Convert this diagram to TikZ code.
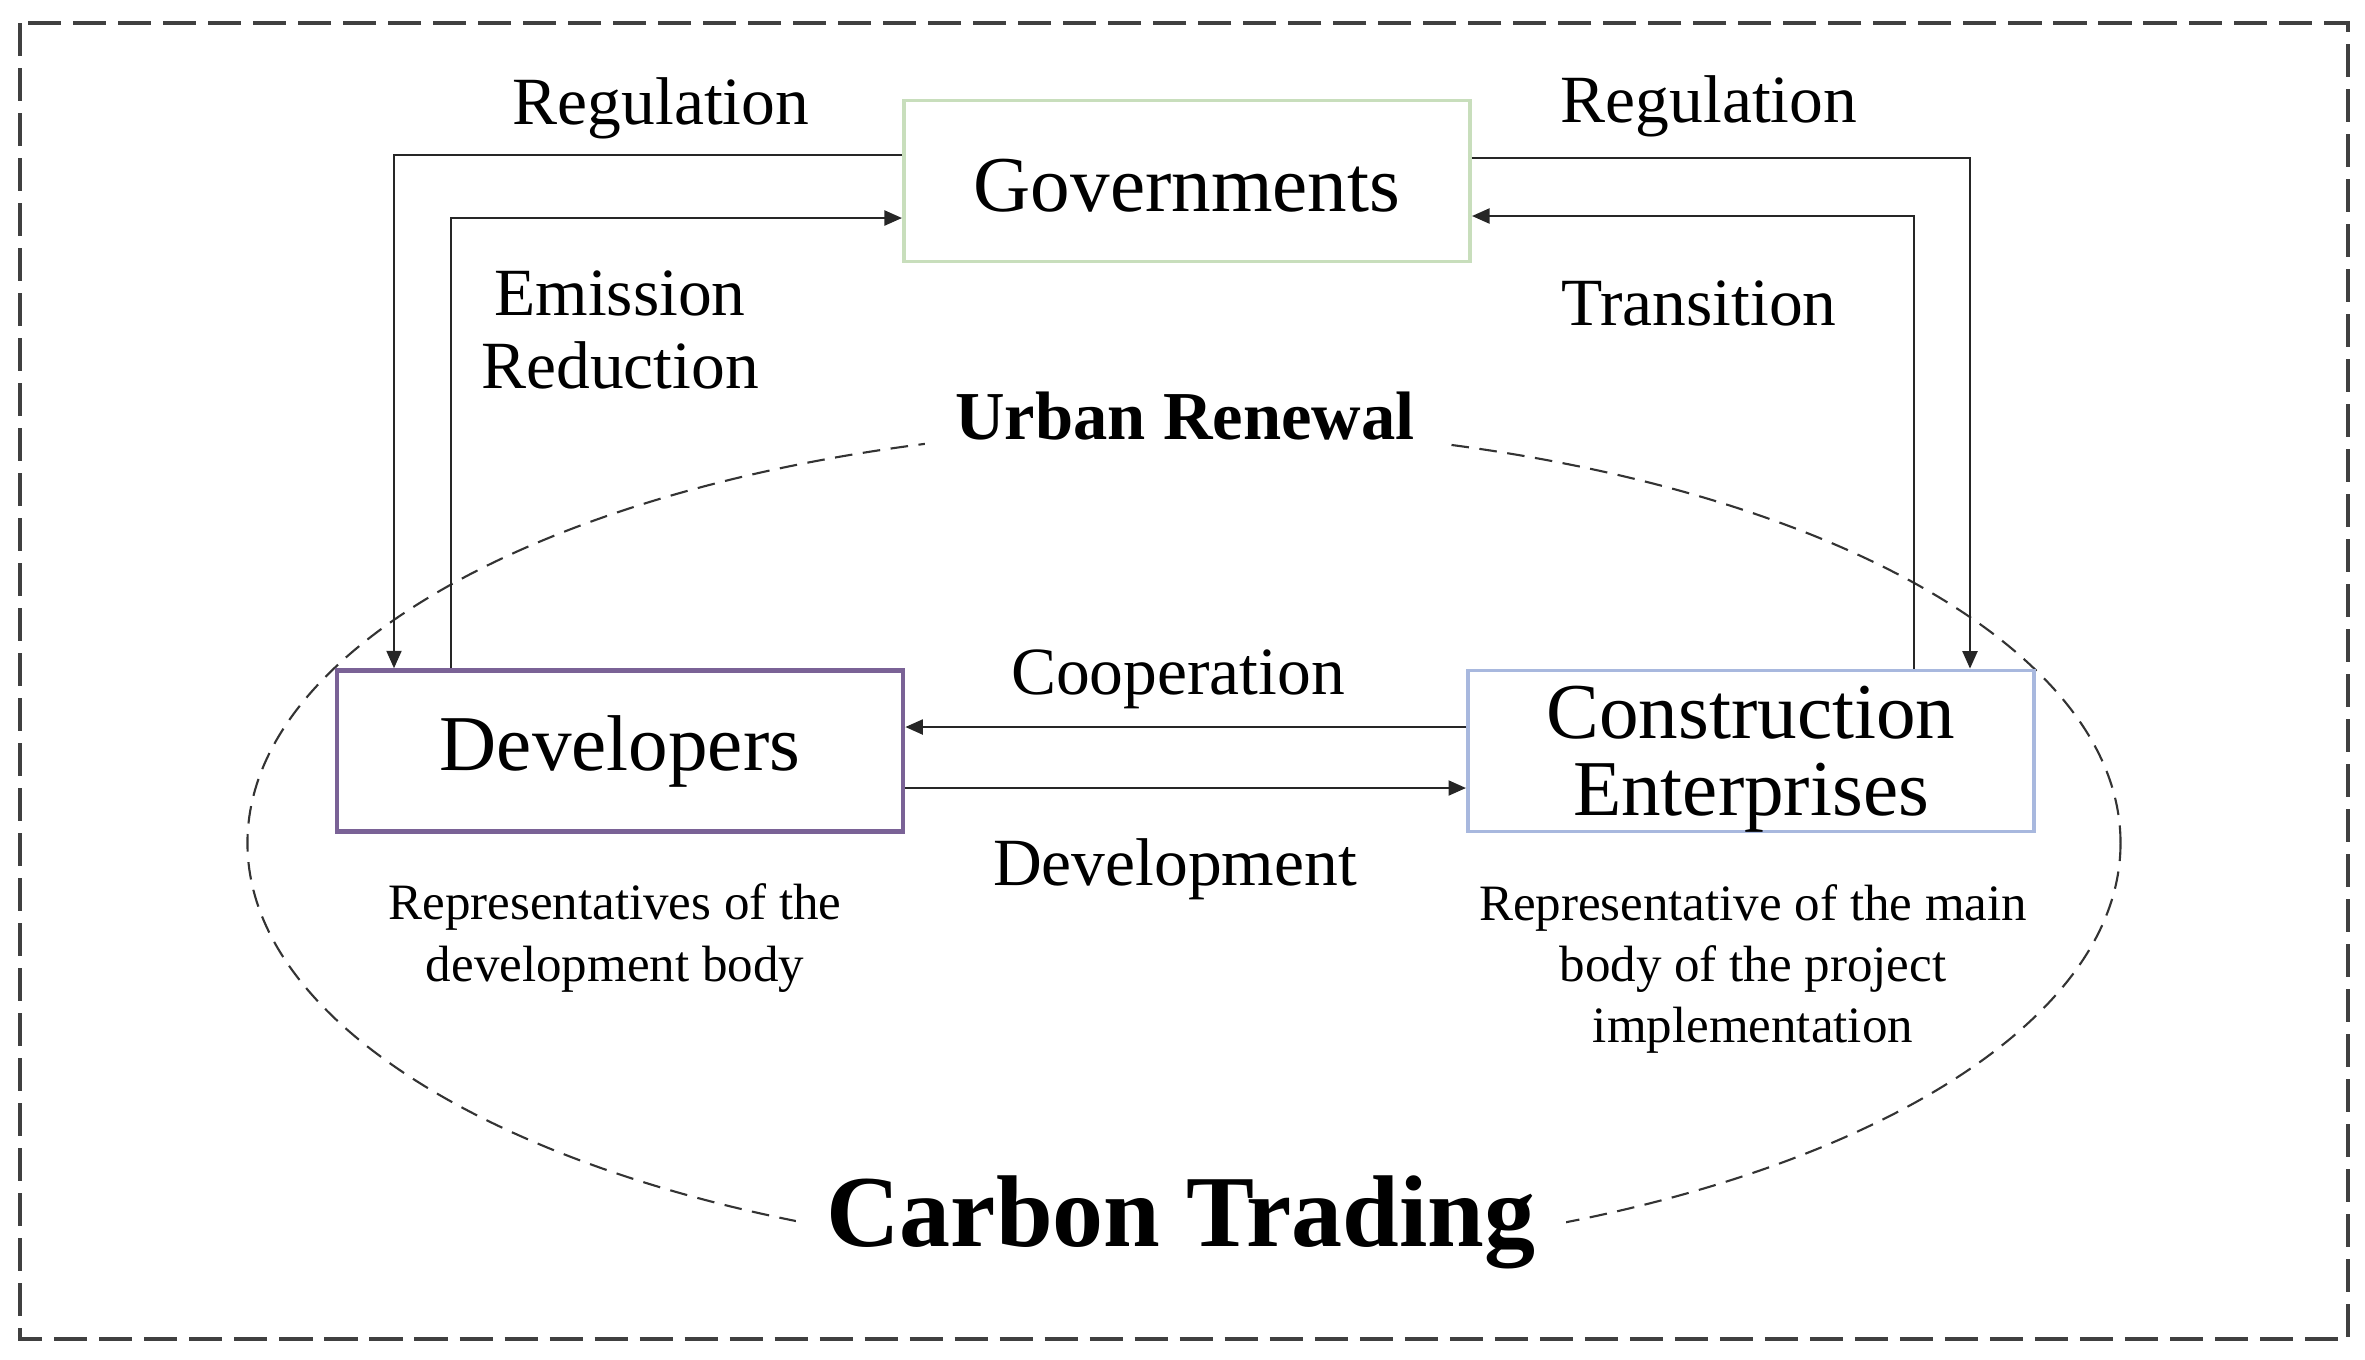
\documentclass[tikz,border=0pt]{standalone}
\usepackage{fontspec}
\setmainfont{Liberation Serif}
\usetikzlibrary{arrows.meta,calc}
\definecolor{govgreen}{RGB}{200,222,188}
\definecolor{devpurple}{RGB}{122,98,150}
\definecolor{consblue}{RGB}{168,184,222}

\begin{document}
\begin{tikzpicture}[x=0.01cm,y=-0.01cm,
  box/.style={draw,line width=1pt,minimum width=5.66cm,minimum height=1.61cm,inner sep=0pt,align=center,font=\fontsize{22.5}{21.9}\selectfont},
  flow/.style={line width=0.8pt,draw=black!85,-{Triangle[length=5pt,width=4.2pt]}},
  lbl/.style={font=\fontsize{19.2}{21}\selectfont,align=center},
  note/.style={font=\fontsize{14.5}{17.4}\selectfont,align=center},
  title/.style={fill=white,inner xsep=0.3cm,inner ysep=2pt,font=\bfseries\fontsize{19.5}{22}\selectfont}]
\useasboundingbox (0,0) rectangle (2365,1359);
%%Frame
\draw[line width=1.2pt,draw=black!75,dash pattern=on 9.4pt off 3.4pt] (20,23) rectangle (2348,1339);
%%Urban renewal
\draw[line width=0.6pt,draw=black!80,dash pattern=on 5pt off 3pt] (1184,843) ellipse [x radius=9.36cm,y radius=4.15cm];

%%Actors
\node[box,draw=govgreen,text height=17.6pt,text depth=0pt] (gov) at (1187,181) {Governments};
\node[box,draw=devpurple,line width=1.2pt] (dev) at (620,751) {Developers};
\node[box,draw=consblue,text depth=0pt] (cons) at (1751,751) {Construction\\Enterprises};

%%Flows
\draw[flow] ($(gov.west)+(0,-26)$) -| ($(dev.north)+(-226,0)$);
\draw[flow] ($(dev.north)+(-169,0)$) |- ($(gov.west)+(0,37)$);
\draw[flow] ($(gov.east)+(0,-23)$) -| ($(cons.north)+(219,0)$);
\draw[flow] ($(cons.north)+(163,0)$) |- ($(gov.east)+(0,35)$);
\draw[flow] ($(cons.west)+(0,-24)$) -- ($(dev.east)+(0,-24)$);
\draw[flow] ($(dev.east)+(0,37)$) -- ($(cons.west)+(0,37)$);

%%Labels
\node[lbl,anchor=base] (regl) at (661,124) {Regulation};
\node[lbl,anchor=base] (regr) at (1709,122) {Regulation};
\node[lbl] (emis) at (620,330) {Emission\\Reduction};
\node[lbl,anchor=base] (trans) at (1699,325) {Transition};
\node[lbl,anchor=base] (coop) at (1178,694) {Cooperation};
\node[lbl,anchor=base] (devt) at (1175,885) {Development};
\node[note] (devnote) at (615,938) {Representatives of the\\development body};
\node[note] (consnote) at (1753,969) {Representative of the main\\body of the project\\implementation};
\node[title,anchor=base] (urban) at (1185,439) {Urban Renewal};
\node[title,anchor=base,font=\bfseries\fontsize{29}{32}\selectfont] (carbon) at (1181,1246) {Carbon Trading};
\end{tikzpicture}
\end{document}
